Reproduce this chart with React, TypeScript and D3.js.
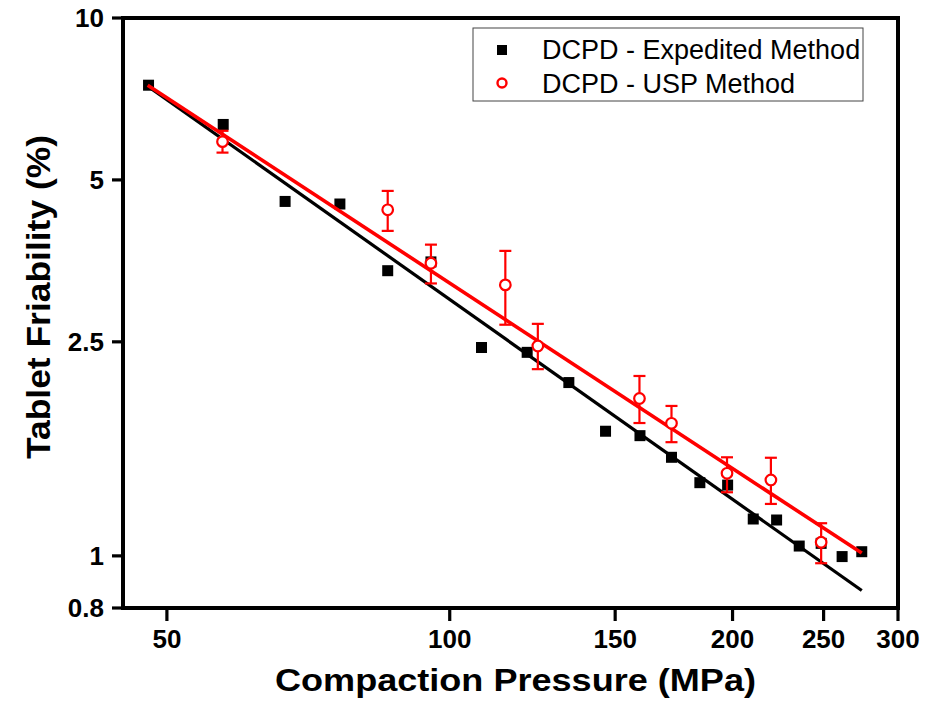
import React from "react";
import * as d3 from "d3";

// ---- data ----
const expPressure = [47.8, 57.4, 66.8, 76.4, 85.9, 95.5, 108.1, 120.9, 133.9, 146.5, 159.4, 172.2, 184.6, 197.6, 210.4, 222.8, 235.5, 248.5, 261.6, 274.5];
const expFriability = [7.5, 6.34, 4.56, 4.51, 3.39, 3.52, 2.44, 2.39, 2.1, 1.705, 1.673, 1.525, 1.368, 1.354, 1.171, 1.166, 1.043, 1.055, 0.997, 1.018];

const uspPressure = [57.3, 85.9, 95.5, 114.6, 124.1, 159.2, 172.2, 197.3, 219.7, 248.5];
const uspFriability = [5.89, 4.4, 3.5, 3.19, 2.456, 1.962, 1.764, 1.424, 1.384, 1.06];
const uspUpper = [6.17, 4.77, 3.79, 3.69, 2.7, 2.16, 1.9, 1.525, 1.522, 1.15];
const uspLower = [5.62, 4.02, 3.21, 2.69, 2.224, 1.766, 1.627, 1.313, 1.249, 0.969];

const fitPressure = [47.7, 274.5];
const expFit = [7.47, 0.862];
const uspFit = [7.5, 1.012];

const xTicks = [50, 100, 150, 200, 250, 300];
const yTicks = [0.8, 1, 2.5, 5, 10];
const yTickLabels = ["0.8", "1", "2.5", "5", "10"];

const legendLabels = ["DCPD - Expedited Method", "DCPD - USP Method"];

const FONT = "'Liberation Sans', Arial, Helvetica, sans-serif";
const RED = "#ff0000";

export default function App() {
  const W = 929;
  const H = 705;
  const left = 123, right = 898, top = 18, bottom = 608;
  const x = d3.scaleLog().domain([44.9, 300]).range([left, right]);
  const y = d3.scaleLog().domain([0.8, 10]).range([bottom, top]);

  const line = d3
    .line<[number, number]>()
    .x((d) => x(d[0]))
    .y((d) => y(d[1]));

  const expFitPts = fitPressure.map((p, i) => [p, expFit[i]] as [number, number]);
  const uspFitPts = fitPressure.map((p, i) => [p, uspFit[i]] as [number, number]);

  const sq = 11;
  const cr = 5.3;
  const cap = 6;

  return (
    <div style={{ position: "absolute", left: 0, top: 0 }}>
      <svg width={W} height={H} style={{ display: "block", background: "#fff" }} fontFamily={FONT}>
        <rect x={0} y={0} width={W} height={H} fill="#fff" />

        {/* black squares */}
        {expPressure.map((p, i) => (
          <rect key={"s" + i} x={x(p) - sq / 2} y={y(expFriability[i]) - sq / 2} width={sq} height={sq} fill="#000" />
        ))}

        {/* fit lines */}
        <path d={line(expFitPts) || ""} stroke="#000" strokeWidth={3.2} fill="none" />
        <path d={line(uspFitPts) || ""} stroke={RED} strokeWidth={3.6} fill="none" />

        {/* USP error bars + circles */}
        {uspPressure.map((p, i) => {
          const cx = x(p);
          const yt = y(uspUpper[i]);
          const yb = y(uspLower[i]);
          return (
            <g key={"u" + i} stroke={RED} strokeWidth={2.2}>
              <line x1={cx} x2={cx} y1={yt} y2={yb} />
              <line x1={cx - cap} x2={cx + cap} y1={yt} y2={yt} />
              <line x1={cx - cap} x2={cx + cap} y1={yb} y2={yb} />
              <circle cx={cx} cy={y(uspFriability[i])} r={cr} fill="#fff" />
            </g>
          );
        })}

        {/* frame */}
        <rect x={left} y={top} width={right - left} height={bottom - top} fill="none" stroke="#000" strokeWidth={4} />

        {/* y ticks */}
        {yTicks.map((t, i) => (
          <g key={"yt" + i}>
            <line x1={left - 11} x2={left} y1={y(t)} y2={y(t)} stroke="#000" strokeWidth={3.2} />
            <text x={104} y={y(t)} dy="0.36em" textAnchor="end" fontSize={26} fontWeight="bold" fill="#000">
              {yTickLabels[i]}
            </text>
          </g>
        ))}

        {/* x ticks */}
        {xTicks.map((t, i) => (
          <g key={"xt" + i}>
            <line x1={x(t)} x2={x(t)} y1={bottom} y2={bottom + 13} stroke="#000" strokeWidth={3.2} />
            <text x={x(t)} y={648} textAnchor="middle" fontSize={26} fontWeight="bold" fill="#000">
              {String(t)}
            </text>
          </g>
        ))}

        {/* axis titles */}
        <text x={515.5} y={691} textAnchor="middle" fontSize={32} fontWeight="bold" fill="#000" textLength={481} lengthAdjust="spacingAndGlyphs">
          Compaction Pressure (MPa)
        </text>
        <text
          transform={`translate(50,297) rotate(-90)`}
          textAnchor="middle"
          fontSize={34}
          fontWeight="bold"
          fill="#000"
          textLength={324}
          lengthAdjust="spacingAndGlyphs"
        >
          Tablet Friability (%)
        </text>

        {/* legend */}
        <rect x={473} y={28} width={390} height={73} fill="#fff" stroke="#444" strokeWidth={1} />
        <rect x={502 - 5} y={50 - 5} width={10} height={10} fill="#000" />
        <circle cx={502} cy={83} r={4.5} fill="#fff" stroke={RED} strokeWidth={2.4} />
        <text x={542} y={59} fontSize={27} fill="#000">
          {legendLabels[0]}
        </text>
        <text x={542} y={93} fontSize={27} fill="#000">
          {legendLabels[1]}
        </text>
      </svg>
    </div>
  );
}
